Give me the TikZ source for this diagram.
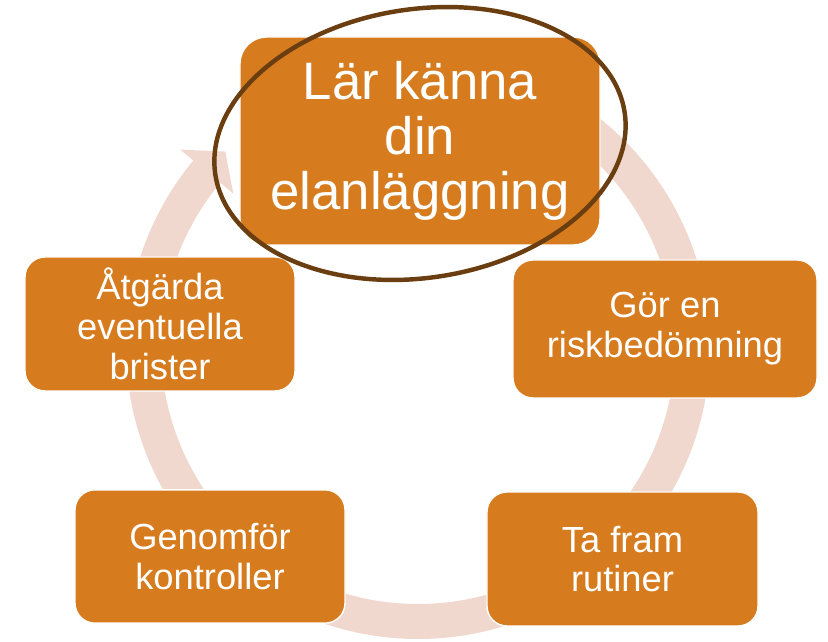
\documentclass[tikz,border=0pt]{standalone}
\usepackage{fontspec}
\setmainfont{Liberation Sans}
\usetikzlibrary{calc}
\definecolor{boxorange}{RGB}{214,123,30}
\definecolor{ringpink}{RGB}{240,216,206}
\definecolor{markbrown}{RGB}{106,62,16}
\begin{document}
\begin{tikzpicture}[x=0.03cm, y=0.03cm,
  stepbox/.style={fill=boxorange, draw=white, line width=1.2pt, rounded corners=0.6cm,
    text=white, align=center, inner sep=0pt, font=\fontsize{31}{34}\selectfont},
  bigbox/.style={stepbox, rounded corners=0.8cm, font=\fontsize{45}{47}\selectfont}]
\useasboundingbox (0,0) rectangle (828,642);
\coordinate (ring) at (418,295);

% cycle arrow behind the boxes
\fill[ringpink] (ring) ++(90:292) arc[start angle=90, end angle=-219.7, radius=292]
  -- ($(ring)+(140.3:309)$) -- ($(ring)+(134.6:274.5)$) -- ($(ring)+(140.3:240)$)
  -- ($(ring)+(140.3:257)$) arc[start angle=-219.7, end angle=90, radius=257] -- cycle;

\node[bigbox, minimum width=10.8cm, minimum height=6.24cm] (know) at (420,501) {L\"ar k\"anna\\din\\elanl\"aggning};
\node[stepbox, minimum width=9.12cm, minimum height=4.14cm] (risk) at (665,313) {G\"or en\\riskbed\"omning};
\node[stepbox, minimum width=8.13cm, minimum height=4.02cm] (routines) at (622.5,83) {Ta fram\\rutiner};
\node[stepbox, minimum width=8.1cm, minimum height=4.0cm] (checks) at (210,85.5) {Genomf\"or\\kontroller};
\node[stepbox, minimum width=8.1cm, minimum height=4.02cm] (remedy) at (160,318) {\AA tg\"arda\\eventuella\\brister};

% highlight round the first step
\coordinate (mark) at (420,498.5);
\draw[markbrown, line width=3.8pt, rotate around={8.7:(mark)}] (mark) ellipse[x radius=6.21cm, y radius=4.03cm];
\end{tikzpicture}
\end{document}
